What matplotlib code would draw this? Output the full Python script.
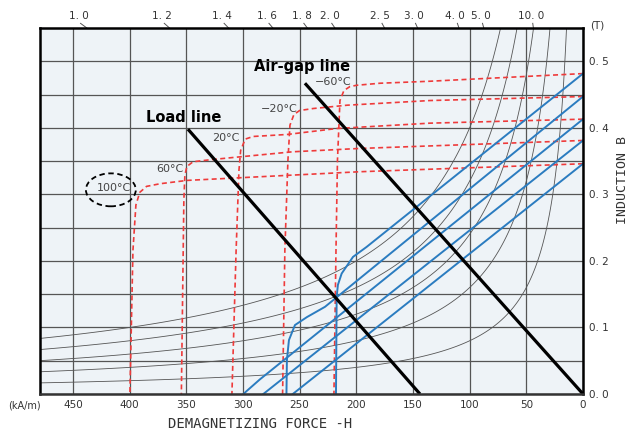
import numpy as np
import matplotlib.pyplot as plt
from matplotlib.patches import Ellipse

# H in kA/m, J / B in T
# intrinsic curves (red dashed)
j_m60_h = [0, 135, 179, 199.4, 205.6, 210.9, 214.4, 216.6, 217.9, 219.7]
j_m60 = [0.4815, 0.470, 0.467, 0.464, 0.462, 0.456, 0.441, 0.351, 0.216, 0]
j_m20_h = [0, 135, 208, 238, 250, 255, 258.5, 260.3, 263, 265]
j_m20 = [0.447, 0.441, 0.434, 0.429, 0.426, 0.420, 0.404, 0.351, 0.216, 0]
j_20_h = [0, 135, 217, 261, 291, 298, 302, 303.5, 306, 309.7]
j_20 = [0.413, 0.407, 0.399, 0.390, 0.387, 0.383, 0.366, 0.336, 0.216, 0]
j_60_h = [0, 197, 256, 305, 329, 344, 349.4, 351.2, 352.1, 354.3]
j_60 = [0.381, 0.369, 0.364, 0.356, 0.352, 0.349, 0.342, 0.329, 0.291, 0]
j_100_h = [0, 197, 349, 373, 385, 391, 394.4, 397, 399.7]
j_100 = [0.346, 0.334, 0.321, 0.316, 0.312, 0.303, 0.284, 0.216, 0]

# normal curves (blue)
b_m60_h = [0, 190.9, 202.9, 212.9, 216.2, 217.3, 217.9]
b_m60 = [0.4815, 0.221, 0.206, 0.181, 0.164, 0.146, 0]
b_m20_h = [0, 227.6, 243.5, 254.1, 259.4, 261.2, 261.6]
b_m20 = [0.447, 0.131, 0.1156, 0.1036, 0.081, 0.051, 0]
b_20_h = [0, 285, 297, 299.5]
b_20 = [0.413, 0.022, 0.004, 0]
b_60_h = [0, 282]
b_60 = [0.381, 0]
b_100_h = [0, 256]
b_100 = [0.346, 0]

load_h = [348.5, 143.8]
load_b = [0.398, 0]
airgap_h = [245.3, 0]
airgap_b = [0.467, 0]

# permeance coefficients marked along the top, energy product curves (kJ/m3)
pc_values = [1.0, 1.2, 1.4, 1.6, 1.8, 2.0, 2.5, 3.0, 4.0, 5.0, 10.0]
bh_levels = [8, 16, 24, 32, 40]

x_ticks = [450, 400, 350, 300, 250, 200, 150, 100, 50, 0]
y_ticks = [0.0, 0.1, 0.2, 0.3, 0.4, 0.5]

MU0 = 4 * np.pi * 1e-7 * 1e3  # T per kA/m
RED = '#ee3b3b'
BLUE = '#2b7cc0'

fig = plt.figure(figsize=(6.31, 4.34), dpi=100)
ax = fig.add_axes([40 / 631, 40 / 434, 543 / 631, 366 / 434])
ax.set_facecolor('#eef3f7')
ax.set_xlim(479, 0)
ax.set_ylim(0, 0.55)

ax.set_xticks(x_ticks)
ax.set_xticklabels([str(v) for v in x_ticks], fontsize=7.5, color='#333333')
ax.set_yticks(y_ticks)
ax.set_yticklabels(['0. %d' % round(v * 10) for v in y_ticks], fontsize=7.5, color='#333333')
ax.set_yticks(np.arange(0.05, 0.55, 0.1), minor=True)
ax.yaxis.tick_right()
ax.tick_params(which='both', length=0, pad=4)
ax.tick_params(axis='y', pad=4)
ax.grid(which='both', color='#555555', linewidth=0.9)
ax.set_axisbelow(True)
for side in ['top', 'left', 'right']:
    ax.spines[side].set_color('black')
    ax.spines[side].set_linewidth(1.8)
ax.spines['bottom'].set_color('#333333')
ax.spines['bottom'].set_linewidth(1.8)

# constant energy product curves
hg, bg = np.meshgrid(np.linspace(1, 480, 600), np.linspace(0.001, 0.56, 500))
ax.contour(hg, bg, hg * bg, levels=bh_levels, colors='#555555', linewidths=0.6)

dash = (0, (3, 2))
for h, j in [(j_m60_h, j_m60), (j_m20_h, j_m20), (j_20_h, j_20), (j_60_h, j_60), (j_100_h, j_100)]:
    ax.plot(h, j, color=RED, lw=1.2, ls=dash)
for h, b in [(b_m60_h, b_m60), (b_m20_h, b_m20), (b_20_h, b_20), (b_60_h, b_60), (b_100_h, b_100)]:
    ax.plot(h, b, color=BLUE, lw=1.4)

ax.plot(load_h, load_b, color='black', lw=2.3, solid_capstyle='butt')
ax.plot(airgap_h, airgap_b, color='black', lw=2.3, solid_capstyle='butt')

ax.text(352, 0.4155, 'Load line', fontsize=10.5, fontweight='bold', ha='center', va='center')
ax.text(247.5, 0.4914, 'Air-gap line', fontsize=10.5, fontweight='bold', ha='center', va='center')

for label, h, b in [('−60°C', 220, 0.469), ('−20°C', 268, 0.4287), ('20°C', 315, 0.3854),
                    ('60°C', 364, 0.3378), ('100°C', 413.4, 0.3089)]:
    ax.text(h, b, label, fontsize=8, color='#444444', ha='center', va='center')
ax.add_patch(Ellipse((416.5, 0.3068), 44, 0.0495, fill=False, edgecolor='black',
                     lw=1.3, ls=(0, (3, 2))))

# permeance ticks above the top edge
for pc in pc_values:
    b0, b1 = 0.55, 0.557
    ax.plot([b0 / (pc * MU0), b1 / (pc * MU0)], [b0, b1], color='#555555', lw=0.7, clip_on=False)
    ax.annotate('%d. %d' % (int(pc), round((pc - int(pc)) * 10)), (b1 / (pc * MU0), b1),
                xytext=(-1.5, 5.5), textcoords='offset points', ha='center', va='center',
                fontsize=7.5, color='#333333', annotation_clip=False)

fig.text(597 / 631, 1 - 26 / 434, '(T)', fontsize=7.5, color='#333333', ha='center', va='center')
fig.text(24 / 631, 1 - 405 / 434, '(kA/m)', fontsize=7, color='#333333', ha='center', va='center')
fig.text(260 / 631, 1 - 424 / 434, 'DEMAGNETIZING FORCE -H', family='DejaVu Sans Mono',
         fontsize=10, color='#333333', ha='center', va='center')
fig.text(622 / 631, 1 - 180 / 434, 'INDUCTION B', family='DejaVu Sans Mono', rotation=90,
         fontsize=9.5, color='#333333', ha='center', va='center')

fig.savefig('out.png', dpi=100)
